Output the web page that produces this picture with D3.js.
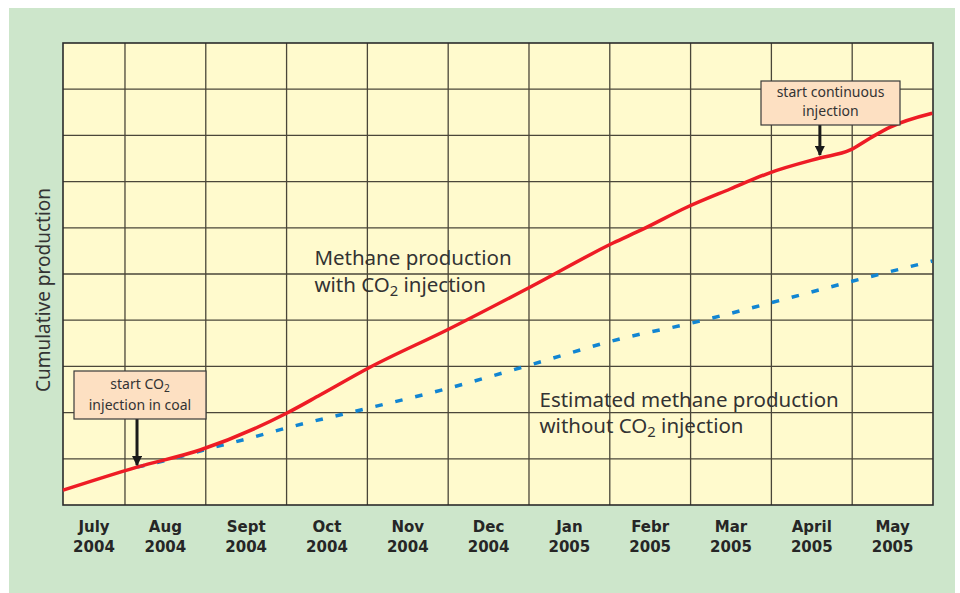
<!DOCTYPE html>
<html>
<head>
<meta charset="utf-8">
<script src="https://cdn.jsdelivr.net/npm/d3@7"></script>
<style>
  html, body { margin: 0; padding: 0; background: #fff; }
  svg { display: block; font-family: "Noto Sans", "Open Sans", sans-serif; }
</style>
</head>
<body>
<div id="chart"></div>
<script>
// months counted from 1 July 2004 (0 = July 1, 1 = Aug 1, ...)
const monthNames = ["July", "Aug", "Sept", "Oct", "Nov", "Dec", "Jan", "Febr", "Mar", "April", "May"];
const monthYears = ["2004", "2004", "2004", "2004", "2004", "2004", "2005", "2005", "2005", "2005", "2005"];
const xStart = 0.233, xEnd = 11;

// methane production with CO2 injection (grid units)
const withCO2 = [
  [0.233, 0.32], [1.149, 0.82], [1.929, 1.19], [3.005, 1.99], [3.414, 2.38],
  [4.02, 2.97], [5.01, 3.81], [6.04, 4.74], [7.04, 5.67], [7.41, 5.97],
  [7.96, 6.45], [8.49, 6.84], [8.98, 7.19], [9.6, 7.51], [9.97, 7.68],
  [10.22, 7.94], [10.47, 8.18], [10.99, 8.48]
];
// estimated methane production without CO2 injection
const withoutCO2 = [
  [1.149, 0.82], [1.557, 0.99], [2.015, 1.21], [2.547, 1.45], [3.005, 1.67],
  [4.02, 2.10], [5.01, 2.53], [6.01, 3.03], [7.16, 3.61], [7.97, 3.92],
  [8.98, 4.37], [9.73, 4.72], [10.99, 5.28]
];
const injectionStart = 1.149;
const continuousStart = 9.6;

const width = 960, height = 593;
const margin = { top: 43, right: 27, bottom: 88, left: 63 };
const innerW = width - margin.left - margin.right;
const innerH = height - margin.top - margin.bottom;

const svg = d3.select("#chart").append("svg")
  .attr("width", width).attr("height", height);

svg.append("rect")
  .attr("x", 9).attr("y", 8).attr("width", 946).attr("height", 585)
  .attr("fill", "#cde6cb");

const g = svg.append("g").attr("transform", `translate(${margin.left},${margin.top})`);

const x = d3.scaleLinear().domain([xStart, xEnd]).range([0, innerW]);
const y = d3.scaleLinear().domain([0, 10]).range([innerH, 0]);

g.append("rect")
  .attr("width", innerW).attr("height", innerH)
  .attr("fill", "#fffacd");

// grid
g.selectAll(".vgrid").data(d3.range(1, 11)).enter().append("line")
  .attr("x1", d => x(d)).attr("x2", d => x(d))
  .attr("y1", 0).attr("y2", innerH)
  .attr("stroke", "#4a4639").attr("stroke-width", 1.3);
g.selectAll(".hgrid").data(d3.range(1, 10)).enter().append("line")
  .attr("x1", 0).attr("x2", innerW)
  .attr("y1", d => y(d)).attr("y2", d => y(d))
  .attr("stroke", "#4a4639").attr("stroke-width", 1.3);

g.append("rect")
  .attr("width", innerW).attr("height", innerH)
  .attr("fill", "none").attr("stroke", "#2b2b2b").attr("stroke-width", 1.6);

// month labels
const labels = g.selectAll(".mlabel").data(monthNames).enter().append("text")
  .attr("text-anchor", "middle")
  .attr("x", (d, i) => (x(Math.max(i, xStart)) + x(i + 1)) / 2)
  .attr("y", innerH + 27)
  .attr("fill", "#262626")
  .style("font-family", "'DejaVu Sans', sans-serif")
  .style("font-size", "15px")
  .style("font-weight", "bold");
labels.append("tspan").text(d => d);
labels.append("tspan")
  .attr("x", (d, i) => (x(Math.max(i, xStart)) + x(i + 1)) / 2)
  .attr("dy", 20)
  .text((d, i) => monthYears[i]);

// y title
svg.append("text")
  .attr("transform", `translate(50,${margin.top + innerH / 2 + 16}) rotate(-90)`)
  .attr("text-anchor", "middle")
  .attr("fill", "#333")
  .style("font-size", "19px")
  .text("Cumulative production");

const line = d3.line().x(d => x(d[0])).y(d => y(d[1])).curve(d3.curveMonotoneX);

g.append("path").datum(withoutCO2)
  .attr("fill", "none").attr("stroke", "#1185d2")
  .attr("stroke-width", 3.5).attr("stroke-dasharray", "7.5,13")
  .attr("d", line);

g.append("path").datum(withCO2)
  .attr("fill", "none").attr("stroke", "#ee1c25")
  .attr("stroke-width", 3.5)
  .attr("d", line);

// text with a subscript part; the tspan after a subscript moves back up
function addParts(t, parts, size) {
  let lowered = false;
  parts.forEach(p => {
    const s = t.append("tspan").text(p.t);
    if (p.sub) {
      s.attr("dy", size * 0.2).style("font-size", (size * 0.72) + "px");
      lowered = true;
    } else if (lowered) {
      s.attr("dy", -size * 0.2);
      lowered = false;
    }
  });
}

function labelText(px, py, parts, size) {
  const t = g.append("text").attr("x", px).attr("y", py)
    .attr("fill", "#333").style("font-size", size + "px");
  addParts(t, parts, size);
  return t;
}

labelText(x(4.0) - 53, y(5.2), [{ t: "Methane production" }], 20.5);
labelText(x(4.0) - 53, y(4.62), [{ t: "with CO" }, { t: "2", sub: true }, { t: " injection" }], 20.5);
labelText(x(6.13), y(2.12), [{ t: "Estimated methane production" }], 20.5);
labelText(x(6.13), y(1.56), [{ t: "without CO" }, { t: "2", sub: true }, { t: " injection" }], 20.5);

// annotation boxes with arrows
const defs = svg.append("defs");
defs.append("marker").attr("id", "arrow")
  .attr("viewBox", "0 0 10 10").attr("refX", 9).attr("refY", 5)
  .attr("markerWidth", 3.4).attr("markerHeight", 3.4).attr("orient", "auto")
  .attr("markerUnits", "strokeWidth")
  .append("path").attr("d", "M0,0 L10,5 L0,10 z").attr("fill", "#1a1a1a");

function annotation(bx, by, bw, bh, lines, ax, ay, first, gap) {
  g.append("line")
    .attr("x1", ax).attr("x2", ax).attr("y1", by + bh).attr("y2", ay)
    .attr("stroke", "#1a1a1a").attr("stroke-width", 3)
    .attr("marker-end", "url(#arrow)");
  g.append("rect").attr("x", bx).attr("y", by).attr("width", bw).attr("height", bh)
    .attr("fill", "#fde0c2").attr("stroke", "#3a3a3a").attr("stroke-width", 1.2);
  lines.forEach((parts, i) => {
    const t = g.append("text").attr("x", bx + bw / 2).attr("y", by + first + i * gap)
      .attr("text-anchor", "middle").attr("fill", "#333").style("font-size", "14px");
    addParts(t, parts, 14);
  });
}

const p1 = withCO2[1];
annotation(11, 328, 132, 48,
  [[{ t: "start CO" }, { t: "2", sub: true }], [{ t: "injection in coal" }]],
  x(injectionStart), y(p1[1]) - 2, 18, 21);

annotation(698, 38, 139, 44,
  [[{ t: "start continuous" }], [{ t: "injection" }]],
  x(continuousStart), y(7.51) - 3, 16, 19);
</script>
</body>
</html>
